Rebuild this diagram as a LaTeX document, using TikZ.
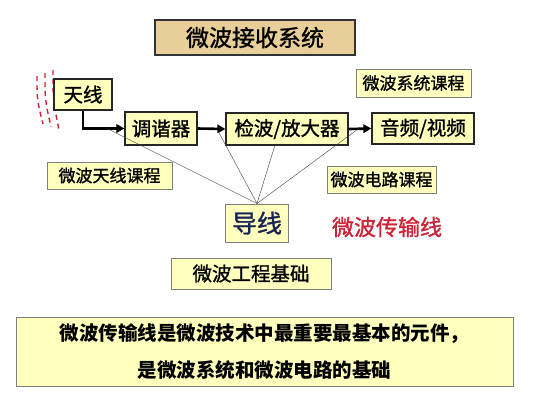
\documentclass[tikz,border=0pt]{standalone}
\usepackage{fontspec}
\setmainfont{Noto Sans CJK SC}
\newfontfamily\heavy[FakeBold=1.2]{Noto Sans CJK SC}
\usetikzlibrary{arrows.meta}
\definecolor{boxyellow}{RGB}{255,255,190}
\definecolor{titletan}{RGB}{232,206,152}
\definecolor{wavered}{RGB}{205,35,55}
\definecolor{navy}{RGB}{25,35,85}
\begin{document}
\begin{tikzpicture}[x=1pt, y=-1pt,
    block/.style={draw=black!85, line width=1.3pt, fill=boxyellow, inner sep=0, font=\heavy\fontsize{19.5}{19.5}\selectfont},
    course/.style={draw=black!50, line width=1pt, fill=boxyellow, inner sep=0, font=\heavy\fontsize{17}{17}\selectfont},
    flow/.style={line width=2.6pt, -{Triangle[length=8pt, width=8.5pt]}},
    feed/.style={thin, black!75}]
\useasboundingbox (0, 0) rectangle (533, 400);
\fill[white] (0, 0) rectangle (533, 400);
% title
\node[draw=black!80, line width=1.3pt, fill=titletan, minimum width=200pt, minimum height=35pt, inner sep=0,
    font=\heavy\fontsize{23}{23}\selectfont] (title) at (255, 37.5) {微波接收系统};
% red waves at the antenna
\foreach \dx/\h in {0/0, 8/3, 16/6} {
    \draw[wavered, line width=1.4pt, dash pattern=on 5pt off 4pt]
        (37+\dx, 76-\h) .. controls (37+\dx, 100) .. (43+\dx, 124+\h);
}
% chain of blocks
\node[block, minimum width=58pt, minimum height=31pt] (tianxian) at (83, 94.5) {天线};
\node[block, minimum width=72pt, minimum height=33pt] (tiaoxie) at (161, 128.5) {调谐器};
\node[block, minimum width=122pt, minimum height=32pt] (jianbo) at (287, 129) {检波/放大器};
\node[block, minimum width=102pt, minimum height=31pt] (yinpin) at (423, 128.5) {音频/视频};
\draw[flow] (tianxian.south) |- (tiaoxie.west);
\draw[flow] (tiaoxie.east) -- (jianbo.west);
\draw[flow] (jianbo.east) -- (yinpin.west);
% courses
\node[course, minimum width=115pt, minimum height=28pt] (syscourse) at (413.5, 83) {微波系统课程};
\node[course, minimum width=125pt, minimum height=27pt] (antcourse) at (109.5, 175.5) {微波天线课程};
\node[course, minimum width=109pt, minimum height=27pt] (circourse) at (381.5, 179.5) {微波电路课程};
% transmission line
\node[course, minimum width=63pt, minimum height=38pt, text=navy, font=\heavy\fontsize{25}{25}\selectfont] (daoxian) at (257, 223) {导线};
\node[text=wavered, inner sep=0, font=\heavy\fontsize{22}{22}\selectfont] (chuanshu) at (387, 227) {微波传输线};
\coordinate (f1) at (107, 128.5);
\coordinate (f2) at (217, 129);
\coordinate (f3) at (275, 145);
\coordinate (f4) at (358, 129);
\foreach \f in {f1, f2, f3, f4} {
    \draw[feed] (\f) -- (daoxian.north);
}
\node[course, minimum width=160pt, minimum height=31pt, font=\heavy\fontsize{19.5}{19.5}\selectfont] (gongcheng) at (251, 273.5) {微波工程基础};
% summary
\node[course, minimum width=497pt, minimum height=69pt, align=center, font=\bfseries\fontsize{19.5}{37}\selectfont] (summary) at (264.5, 351.5)
    {微波传输线是微波技术中最重要最基本的元件，\\是微波系统和微波电路的基础};
\end{tikzpicture}
\end{document}
